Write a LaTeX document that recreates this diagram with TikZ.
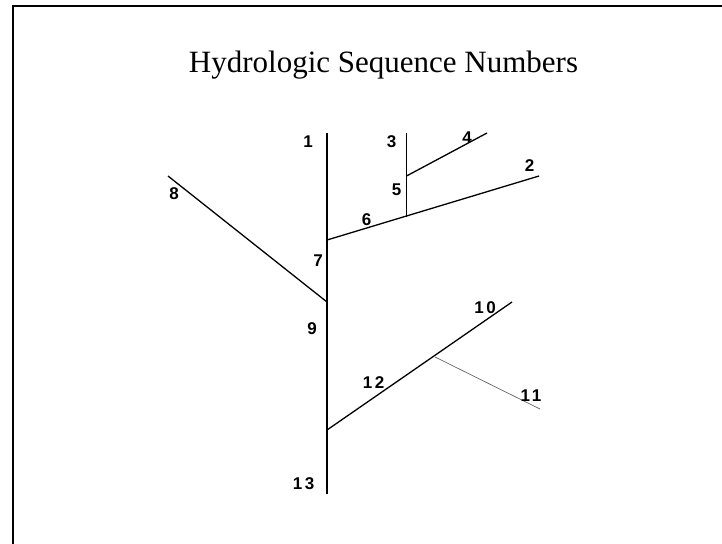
\documentclass[tikz,border=0pt]{standalone}
\usepackage{fontspec}
\setmainfont{Liberation Serif}
\newfontfamily\lblfont{Liberation Sans}
\begin{document}
\begin{tikzpicture}[x=1pt,y=-1pt,
  lbl/.style={font=\lblfont\bfseries\fontsize{17}{17}\selectfont, inner sep=0pt},
  trunk/.style={line width=2.3pt, black},
  branch/.style={line width=1.3pt, black},
  thin/.style={line width=0.7pt, black!60}]
\useasboundingbox (0,0) rectangle (722,543);
\draw[line width=2pt] (12.5,560) -- (12.5,6) -- (740,6);
\node[font=\fontsize{31}{31}\selectfont, inner sep=0pt, anchor=base] (title) at (383.5,72) {Hydrologic Sequence Numbers};
% junctions
\coordinate (top) at (327,133);
\coordinate (j7) at (327,240);
\coordinate (j9) at (327,302);
\coordinate (j12) at (327,430);
\coordinate (bot) at (327,494);
\coordinate (e8) at (168,176);
\coordinate (e2) at (539,176);
\coordinate (j6) at (406.5,216.5);
\coordinate (e3) at (406.5,133);
\coordinate (j5) at (406.5,176);
\coordinate (e4) at (487,133);
\coordinate (e10) at (512,302);
\coordinate (j11) at (435,357);
\coordinate (e11) at (540,409);
\draw[trunk] (top) -- (bot);
\draw[branch] (e8) -- (j9);
\draw[branch] (j7) -- (e2);
\draw[branch] (j6) -- (e3);
\draw[branch] (j5) -- (e4);
\draw[branch] (j12) -- (e10);
\draw[thin] (j11) -- (e11);
% labels
\node[lbl] (l1) at (308,141.5) {1};
\node[lbl] (l3) at (391.5,141.5) {3};
\node[lbl] (l4) at (467,138) {4};
\node[lbl] (l2) at (529.5,165.5) {2};
\node[lbl] (l5) at (396.5,189.5) {5};
\node[lbl] (l6) at (366.5,220) {6};
\node[lbl] (l8) at (174,193.5) {8};
\node[lbl] (l7) at (318,261) {7};
\node[lbl] (l9) at (312,328.5) {9};
\node[lbl] (l10) at (485,307.5) {1\kern2.5pt0};
\node[lbl] (l12) at (373.5,382.5) {1\kern2.5pt2};
\node[lbl] (l11) at (531,395.5) {1\kern2pt1};
\node[lbl] (l13) at (303.5,483.5) {1\kern2.5pt3};
\end{tikzpicture}
\end{document}
